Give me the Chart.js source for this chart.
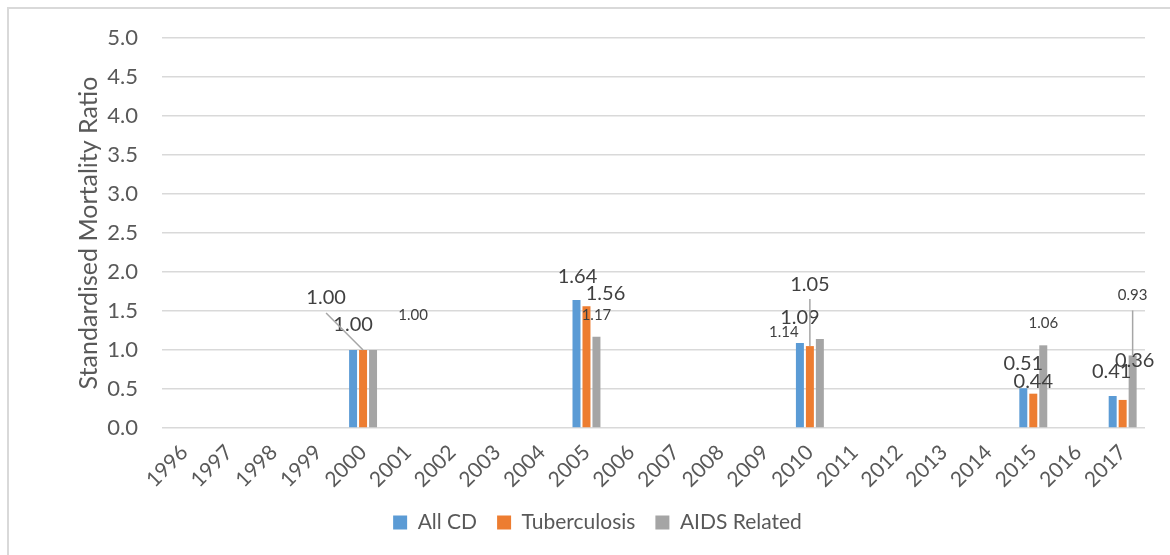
<!DOCTYPE html>
<html lang="en">
<head>
  <meta charset="UTF-8">
  <title>Standardised Mortality Ratio</title>
  <script src="https://cdn.jsdelivr.net/npm/chart.js"></script>
  <style>
    body { margin: 0; background: #fff; overflow: hidden; }
    .frame {
      position: absolute; left: 7px; top: 7px;
      width: 1180px; height: 570px;
      border: 2px solid #d9d9d9;
    }
    .wrap { position: absolute; left: 0; top: 0; width: 1170px; height: 555px; }
  </style>
</head>
<body>
  <div class="frame"></div>
  <div class="wrap"><canvas id="chart" width="1170" height="555"></canvas></div>

  <script>
    const years = ['1996', '1997', '1998', '1999', '2000', '2001', '2002', '2003', '2004', '2005', '2006',
                   '2007', '2008', '2009', '2010', '2011', '2012', '2013', '2014', '2015', '2016', '2017'];
    const allCD =        [null, null, null, null, 1.00, null, null, null, null, 1.64, null,
                          null, null, null, 1.09, null, null, null, null, 0.51, null, 0.41];
    const tuberculosis = [null, null, null, null, 1.00, null, null, null, null, 1.56, null,
                          null, null, null, 1.05, null, null, null, null, 0.44, null, 0.36];
    const aidsRelated =  [null, null, null, null, 1.00, null, null, null, null, 1.17, null,
                          null, null, null, 1.14, null, null, null, null, 1.06, null, 0.93];

    // where Excel left each data label: [dx, dy, leader line] from the top of its bar
    const labelOffsets = [
      { 2000: [0, -25], 2005: [1, -24], 2010: [0, -25], 2015: [0, -25], 2017: [-1, -24] },
      { 2000: [-37, -52, true], 2005: [19, -13], 2010: [0, -62, true], 2015: [0, -12], 2017: [12, -39] },
      { 2000: [40, -35], 2005: [0, -22], 2010: [-36, -7], 2015: [0, -22], 2017: [0, -60, true] }
    ];
    const labelSizes = [20, 20, 15];

    const FONT = 'Lato, "Open Sans", sans-serif';

    const valueLabels = {
      id: 'valueLabels',
      afterLayout(chart) {
        // legend sits a little left of centre in the original
        chart.legend.left -= 10;
        chart.legend.right -= 10;
      },
      afterDatasetsDraw(chart) {
        const ctx = chart.ctx;
        ctx.save();
        chart.data.datasets.forEach((ds, di) => {
          const meta = chart.getDatasetMeta(di);
          meta.data.forEach((bar, i) => {
            const v = ds.data[i];
            if (v == null) return;
            const off = labelOffsets[di][years[i]] || [0, -20];
            const tx = bar.x + off[0];
            const ty = bar.y + off[1];
            if (off[2]) {
              ctx.strokeStyle = '#a6a6a6';
              ctx.lineWidth = 1.5;
              ctx.beginPath();
              ctx.moveTo(tx, ty + 15);
              ctx.lineTo(bar.x, bar.y);
              ctx.stroke();
            }
            ctx.font = labelSizes[di] + 'px ' + FONT;
            ctx.fillStyle = '#404040';
            ctx.textAlign = 'center';
            ctx.textBaseline = 'middle';
            ctx.fillText(v.toFixed(2), tx, ty);
          });
        });
        ctx.restore();
      }
    };

    new Chart(document.getElementById('chart'), {
      type: 'bar',
      data: {
        labels: years,
        datasets: [
          { label: 'All CD', data: allCD, backgroundColor: '#5b9bd5' },
          { label: 'Tuberculosis', data: tuberculosis, backgroundColor: '#ed7d31' },
          { label: 'AIDS Related', data: aidsRelated, backgroundColor: '#a5a5a5' }
        ]
      },
      options: {
        responsive: false,
        animation: false,
        categoryPercentage: 0.67,
        barPercentage: 0.8,
        layout: { padding: { left: 70, right: 25, top: 38, bottom: 12 } },
        plugins: {
          tooltip: { enabled: false },
          legend: {
            position: 'bottom',
            labels: {
              font: { family: FONT, size: 21 },
              color: '#595959',
              boxWidth: 14,
              boxHeight: 14,
              padding: 20
            }
          }
        },
        scales: {
          x: {
            grid: { display: false },
            border: { display: false },
            ticks: {
              font: { family: FONT, size: 21 },
              color: '#595959',
              minRotation: 45,
              maxRotation: 45,
              padding: 4,
              autoSkip: false
            },
            afterFit(scale) { scale.height = 64; }
          },
          y: {
            min: 0,
            max: 5,
            grid: { color: '#d9d9d9', lineWidth: 1.5, drawTicks: false },
            border: { display: false },
            ticks: {
              stepSize: 0.5,
              padding: 24,
              font: { family: FONT, size: 22 },
              color: '#595959',
              callback: v => v.toFixed(1)
            },
            title: {
              display: true,
              text: 'Standardised Mortality Ratio',
              font: { family: FONT, size: 25 },
              color: '#595959'
            },
            afterFit(scale) { scale.width = 92; }
          }
        }
      },
      plugins: [valueLabels]
    });
  </script>
</body>
</html>
